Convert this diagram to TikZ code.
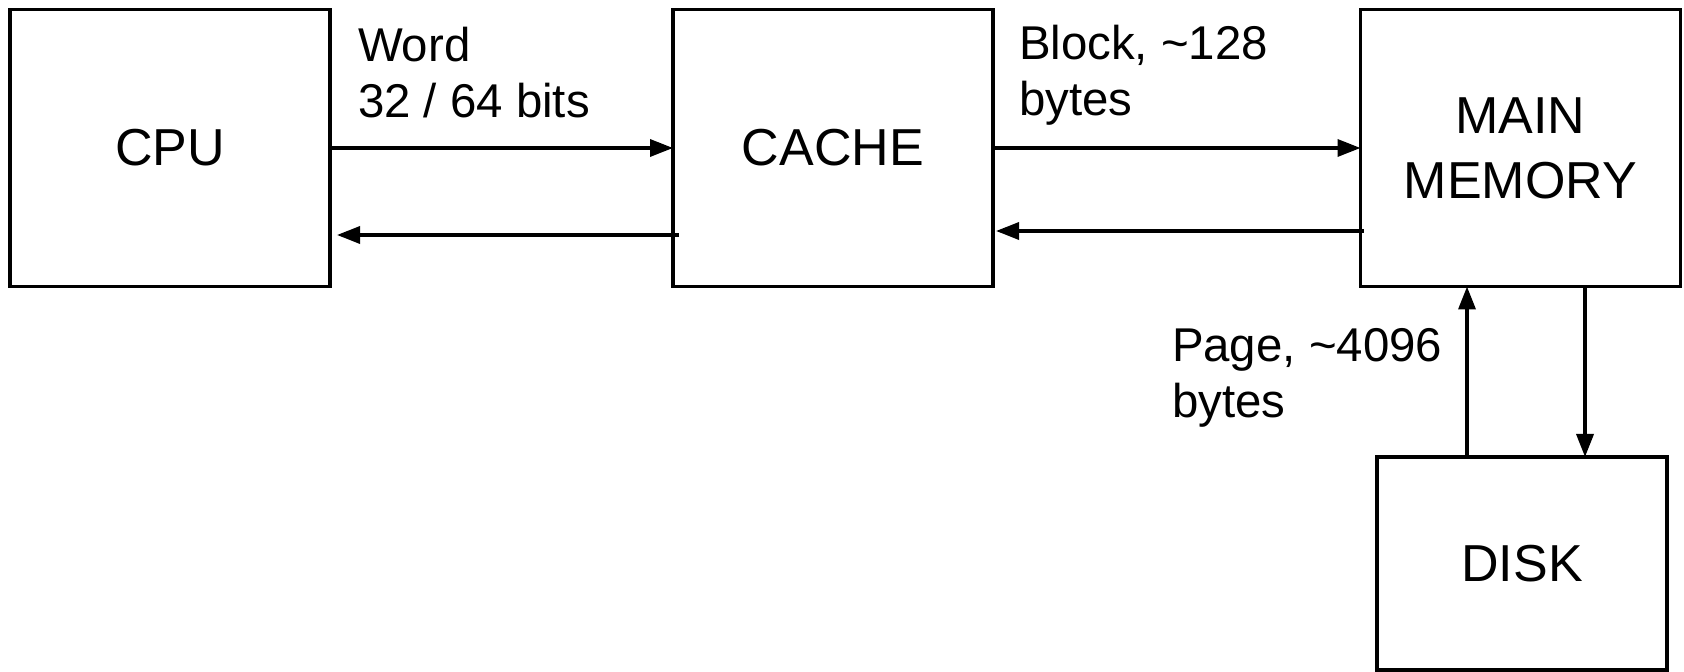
\documentclass[tikz,border=0pt]{standalone}
\usepackage{fontspec}
\setmainfont{Liberation Sans}
\usetikzlibrary{arrows.meta}
\tikzset{
  unit/.style={draw=black, line width=1.75pt, rectangle, inner sep=0pt, outer sep=0pt,
    minimum width=160pt, minimum height=138.5pt, align=center,
    font=\fontsize{26}{32.5}\selectfont},
  lbl/.style={inner sep=0pt, outer sep=0pt, anchor=north west, align=left,
    font=\fontsize{23.7}{28}\selectfont},
  link/.style={line width=1.75pt, -{Triangle[length=11.5pt, width=8.5pt]}}
}
\begin{document}
\begin{tikzpicture}[x=0.5pt, y=-0.5pt]
  % page frame
  \fill[white] (0,0) rectangle (1684,672);
  \useasboundingbox (0,0) rectangle (1684,672);

  % units of the hierarchy
  \node[unit] (cpu)   at (170,148)    {CPU};
  \node[unit] (cache) at (833,148)    {CACHE};
  \node[unit] (mem)   at (1520.5,148) {MAIN\\MEMORY};
  \node[unit, minimum width=145pt, minimum height=106.5pt] (disk) at (1522,563.5) {DISK};

  % levels of the return paths and of the vertical links
  \coordinate (backA) at (0,235);
  \coordinate (backB) at (0,231);
  \coordinate (upx)   at (1467,0);
  \coordinate (downx) at (1585,0);

  % transfers between CPU and cache
  \draw[link] (cpu.east) -- (cache.west);
  \draw[link] ([xshift=3pt]cache.west |- backA) -- ([xshift=3.5pt]cpu.east |- backA);

  % transfers between cache and main memory
  \draw[link] (cache.east) -- (mem.west);
  \draw[link] ([xshift=1.5pt]mem.west |- backB) -- ([xshift=1.5pt]cache.east |- backB);

  % transfers between main memory and disk
  \draw[link] (disk.north -| upx) -- (mem.south -| upx);
  \draw[link] (mem.south -| downx) -- (disk.north -| downx);

  % transfer sizes
  \node[lbl] (wordlbl)  at (358,27)   {Word\\32 / 64 bits};
  \node[lbl] (blocklbl) at (1019,25)  {Block, \textasciitilde128\\bytes};
  \node[lbl] (pagelbl)  at (1172,328) {Page, \textasciitilde4096\\bytes};
\end{tikzpicture}
\end{document}
